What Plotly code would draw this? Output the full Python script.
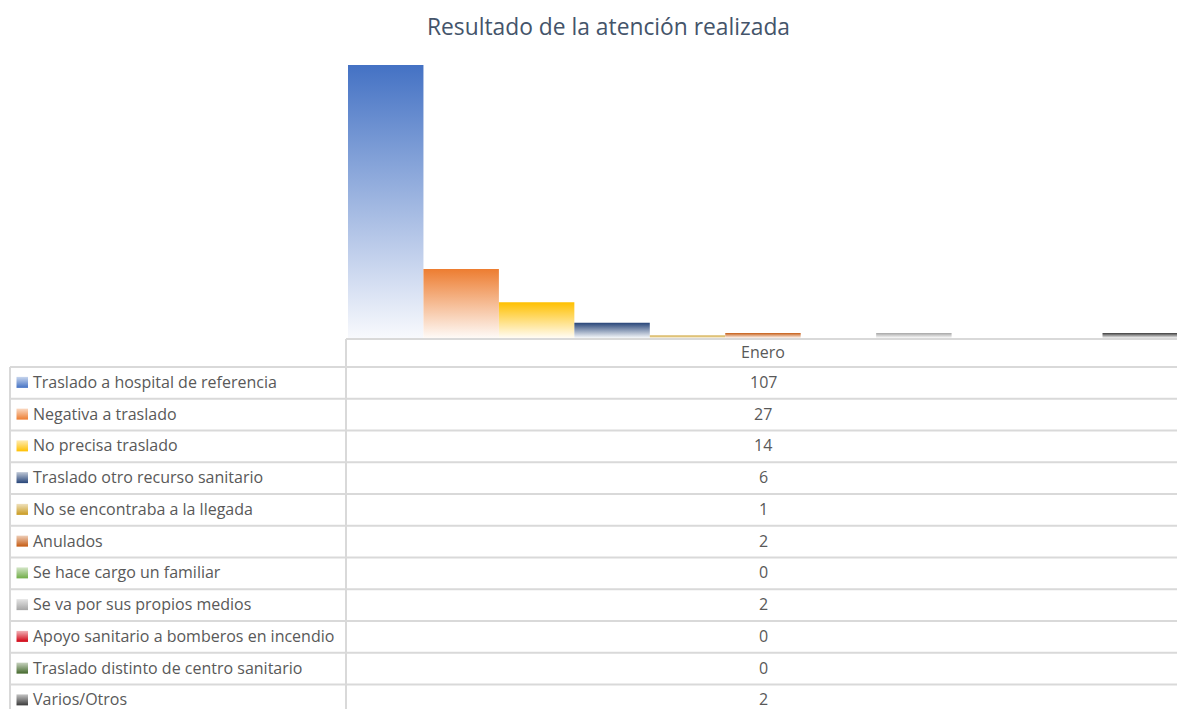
import plotly.graph_objects as go

# ---------------- data ----------------
month = "Enero"
categories = [
    "Traslado a hospital de referencia",
    "Negativa a traslado",
    "No precisa traslado",
    "Traslado otro recurso sanitario",
    "No se encontraba a la llegada",
    "Anulados",
    "Se hace cargo un familiar",
    "Se va por sus propios medios",
    "Apoyo sanitario a bomberos en incendio",
    "Traslado distinto de centro sanitario",
    "Varios/Otros",
]
values = [107, 27, 14, 6, 1, 2, 0, 2, 0, 0, 2]
colors = [
    "#4472C4", "#ED7D31", "#FFC000", "#264478", "#C99A1F", "#C55A11",
    "#70AD47", "#A5A5A5", "#D00010", "#43682B", "#3A3A3A",
]
title = "Resultado de la atención realizada"

# ---------------- layout constants (pixels) ----------------
W, H = 1177, 709
base_y = 338          # bar baseline / table header top
top_y = 65            # top of highest bar
plot_left = 348
cat_w = 75.45
row0_top = 367
row_h = 31.75
col_split = 346
tbl_left = 10
val_x = 763
line_col = "#D9D9D9"
txt_col = "#595959"
FONT = "Open Sans"
FS = 16


def light(hex_color, t=0.96):
    h = hex_color.lstrip("#")
    r, g, b = (int(h[i:i + 2], 16) for i in (0, 2, 4))
    r, g, b = (round(c + (255 - c) * t) for c in (r, g, b))
    return f"rgb({r},{g},{b})"


fig = go.Figure()

# bars (gradient filled) on main axes
for i, (cat, v, c) in enumerate(zip(categories, values, colors)):
    if v <= 0:
        continue
    fig.add_trace(go.Scatter(
        x=[i - 0.5, i - 0.5, i + 0.5, i + 0.5, i - 0.5],
        y=[0, v, v, 0, 0],
        mode="lines", line=dict(width=0), fill="toself",
        fillgradient=dict(type="vertical",
                          colorscale=[[0, light(c, 0.96)], [1, c]]),
        name=cat, showlegend=False, hoverinfo="skip",
        xaxis="x", yaxis="y",
    ))

# legend keys in the table (pixel axes)
for i, c in enumerate(colors):
    cy = row0_top + row_h * (i + 0.5)
    y0, y1 = cy - 6, cy + 5
    fig.add_trace(go.Scatter(
        x=[16.5, 16.5, 28, 28, 16.5], y=[y1, y0, y0, y1, y1],
        mode="lines", line=dict(width=0), fill="toself",
        fillgradient=dict(type="vertical",
                          colorscale=[[0, c], [1, light(c, 0.7)]]),
        showlegend=False, hoverinfo="skip", xaxis="x2", yaxis="y2",
    ))

ncat = len(categories)
dom_w = W - plot_left
fig.update_layout(
    width=W, height=H,
    margin=dict(l=0, r=0, t=0, b=0),
    paper_bgcolor="white", plot_bgcolor="rgba(0,0,0,0)",
    showlegend=False,
    xaxis=dict(domain=[plot_left / W, 1], range=[-0.5, -0.5 + dom_w / cat_w],
               visible=False, fixedrange=True, anchor="y"),
    yaxis=dict(domain=[1 - base_y / H, 1 - top_y / H], range=[0, max(values)],
               visible=False, fixedrange=True, anchor="x"),
    xaxis2=dict(domain=[0, 1], range=[0, W], visible=False, anchor="y2",
                fixedrange=True),
    yaxis2=dict(domain=[0, 1], range=[H, 0], visible=False, anchor="x2",
                fixedrange=True),
)

shapes = []
ln = dict(color=line_col, width=2)
# header top line
shapes.append(dict(type="line", xref="x2", yref="y2", x0=col_split, x1=W,
                   y0=base_y + 1, y1=base_y + 1, line=ln))
# row lines
for i in range(ncat + 1):
    y = row0_top + row_h * i
    shapes.append(dict(type="line", xref="x2", yref="y2", x0=tbl_left, x1=W,
                       y0=y, y1=y, line=ln))
# vertical lines
shapes.append(dict(type="line", xref="x2", yref="y2", x0=col_split, x1=col_split,
                   y0=base_y + 1, y1=H + 5, line=ln))
shapes.append(dict(type="line", xref="x2", yref="y2", x0=tbl_left, x1=tbl_left,
                   y0=row0_top, y1=H + 5, line=ln))
fig.update_layout(shapes=shapes)

ann = []
ann.append(dict(text=title, xref="x2", yref="y2", x=608, y=26, showarrow=False,
                xanchor="center", yanchor="middle",
                font=dict(family=FONT, size=22.8, color="#44546A")))
ann.append(dict(text=month, xref="x2", yref="y2", x=val_x, y=352, showarrow=False,
                xanchor="center", yanchor="middle",
                font=dict(family=FONT, size=FS, color=txt_col)))
for i, (cat, v) in enumerate(zip(categories, values)):
    cy = row0_top + row_h * (i + 0.5) - 1
    ann.append(dict(text=cat, xref="x2", yref="y2", x=31, y=cy, showarrow=False,
                    xanchor="left", yanchor="middle",
                    font=dict(family=FONT, size=FS, color=txt_col)))
    ann.append(dict(text=str(v), xref="x2", yref="y2", x=val_x, y=cy, showarrow=False,
                    xanchor="center", yanchor="middle",
                    font=dict(family=FONT, size=FS, color=txt_col)))
fig.update_layout(annotations=ann)

fig.write_html("out.html",
               config={"displayModeBar": False, "staticPlot": True},
               post_script="document.body.style.margin='0';"
                           "document.body.style.overflow='hidden';")
